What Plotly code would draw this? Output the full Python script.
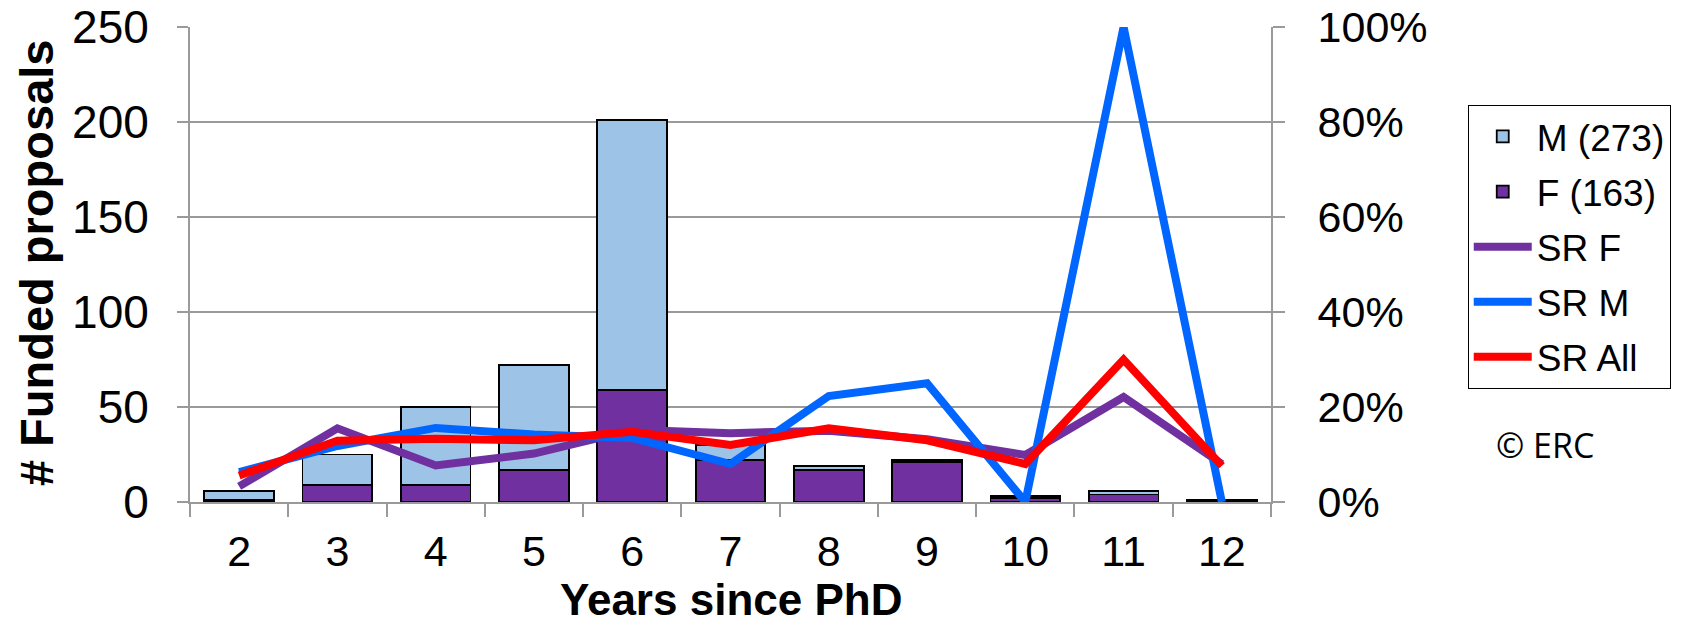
import plotly.graph_objects as go

years = ["2", "3", "4", "5", "6", "7", "8", "9", "10", "11", "12"]
funded_f = [1, 9, 9, 17, 59, 22, 17, 21, 2, 4, 1]
funded_m = [5, 16, 41, 55, 142, 8, 2, 1, 1, 2, 0]
sr_f = [3.3, 15.5, 7.7, 10.2, 15.2, 14.5, 15.0, 13.2, 9.9, 22.1, 8.0]
sr_m = [6.3, 11.8, 15.6, 14.2, 13.5, 8.0, 22.3, 25.0, 0.0, 100.0, 0.0]
sr_all = [5.6, 12.9, 13.3, 13.0, 14.8, 12.0, 15.5, 13.0, 8.0, 30.0, 7.6]

FONT = "Liberation Sans, Arial, sans-serif"
GRID = "#9a9a9a"

fig = go.Figure()
fig.add_trace(go.Bar(x=years, y=funded_f, name="F (163)", marker=dict(color="#7030A0", line=dict(color="black", width=1.8)),
                     legendrank=2, legendgroup="f"))
fig.add_trace(go.Bar(x=years, y=funded_m, name="M (273)", marker=dict(color="#9DC3E6", line=dict(color="black", width=1.8)),
                     legendrank=1, legendgroup="m"))
fig.add_trace(go.Scatter(x=years, y=sr_f, name="SR F", mode="lines", yaxis="y2",
                         line=dict(color="#7030A0", width=8), legendrank=3, legendgroup="srf"))
fig.add_trace(go.Scatter(x=years, y=sr_m, name="SR M", mode="lines", yaxis="y2",
                         line=dict(color="#0066FF", width=8), legendrank=4, legendgroup="srm"))
fig.add_trace(go.Scatter(x=years, y=sr_all, name="SR All", mode="lines", yaxis="y2",
                         line=dict(color="#FF0000", width=8), legendrank=5, legendgroup="sra"))

fig.update_layout(
    width=1694, height=625,
    margin=dict(l=190, r=423, t=27, b=123, autoexpand=False),
    paper_bgcolor="white", plot_bgcolor="white",
    barmode="stack", bargap=0.29,
    font=dict(family=FONT, size=44, color="black"),
    xaxis=dict(type="category", tickson="boundaries", ticks="outside", ticklen=13, tickcolor=GRID, tickwidth=2,
               showline=True, linecolor=GRID, linewidth=2, showgrid=False, automargin=False,
               tickfont=dict(size=43), ticklabelstandoff=10),
    yaxis=dict(range=[0, 250], dtick=50, ticks="outside", ticklen=11, tickcolor=GRID, tickwidth=2,
               showline=True, linecolor=GRID, linewidth=2, showgrid=True, gridcolor=GRID, gridwidth=2,
               zeroline=False, automargin=False, tickfont=dict(size=46), ticklabelstandoff=19),
    yaxis2=dict(range=[0, 100], dtick=20, overlaying="y", side="right", ticksuffix="%",
                ticks="outside", ticklen=12, tickcolor=GRID, tickwidth=2, automargin=False,
                showline=True, linecolor=GRID, linewidth=2, showgrid=False, zeroline=False,
                tickfont=dict(size=43), ticklabelstandoff=24),
    legend=dict(x=1.182, y=0.836, xanchor="left", yanchor="top",
                bordercolor="black", borderwidth=1, bgcolor="white",
                font=dict(size=37), tracegroupgap=4, itemwidth=58, entrywidth=164,
                traceorder="grouped"),
    showlegend=True,
)

fig.add_annotation(text="<b>Years since PhD</b>", xref="paper", yref="paper", x=0.5, y=-0.2053,
                   xanchor="center", yanchor="middle", showarrow=False, font=dict(size=44))
fig.add_annotation(text="<b># Funded proposals</b>", xref="paper", yref="paper", x=-0.1425, y=0.505,
                   xanchor="center", yanchor="middle", showarrow=False, textangle=-90, font=dict(size=47))
fig.add_annotation(text="© ERC", xref="paper", yref="paper", x=1.2535, y=0.12,
                   xanchor="center", yanchor="middle", showarrow=False,
                   font=dict(size=34, family="Open Sans, Noto Sans, sans-serif"))

fig.write_html("out.html", config={"displayModeBar": False},
               post_script="document.body.style.margin='0';")
